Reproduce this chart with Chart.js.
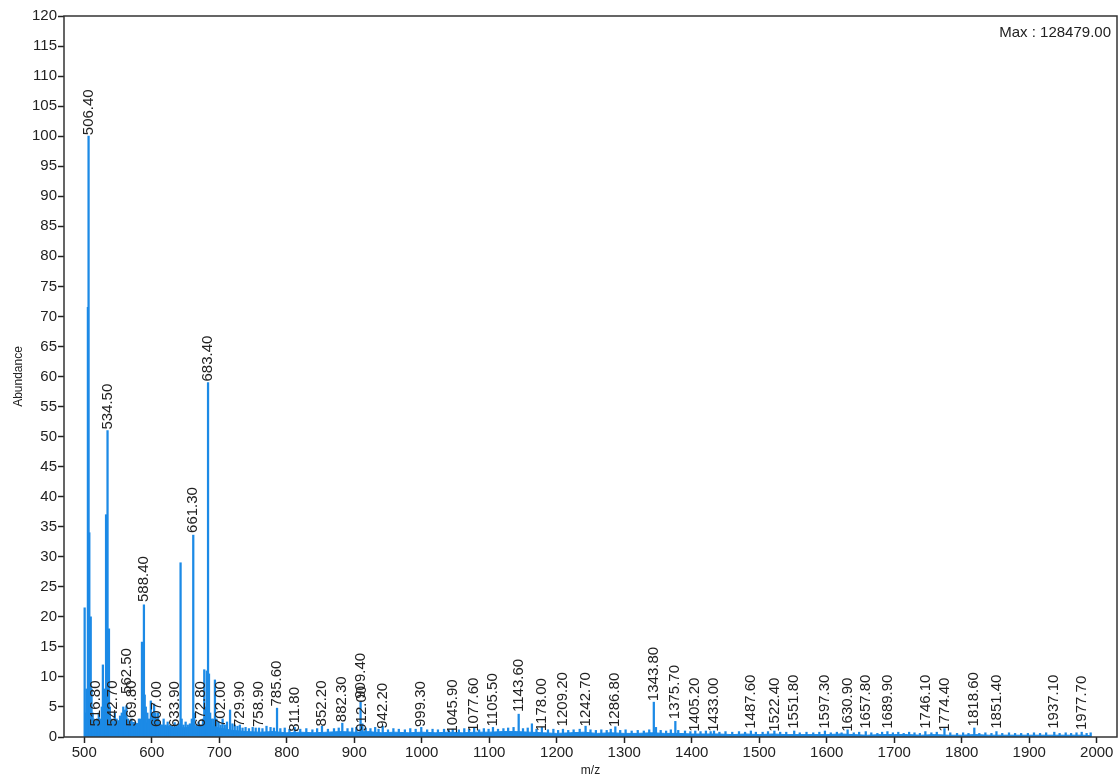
<!DOCTYPE html>
<html>
<head>
<meta charset="utf-8">
<script src="https://cdn.jsdelivr.net/npm/chart.js@4/dist/chart.umd.min.js"></script>
<style>
html, body { margin: 0; padding: 0; background: #fff; }
#wrap { width: 1119px; height: 780px; }
</style>
</head>
<body>
<div id="wrap"><canvas id="spectrum" width="1119" height="780"></canvas></div>
<script>
const FONT = '"Liberation Sans", Arial, sans-serif';
const BLUE = '#1c8ae6';
const maxCount = 128479;

// stick peaks (m/z, relative abundance %)
const peakMz = [
    500.6, 502.0, 503.3, 505.4, 506.4, 507.5, 508.6, 509.6, 510.8, 512.5, 514.0, 516.8, 519.2, 521.5, 524.0,
    526.0, 527.6, 529.0, 530.8, 532.3, 533.4, 534.5, 535.5, 536.6, 538.0, 540.0, 542.7, 545.3, 548.0, 550.5,
    553.0, 555.6, 557.8, 560.2, 562.5, 565.0, 567.5, 569.8, 572.4, 575.2, 578.0, 581.0, 583.6, 585.5, 587.2,
    588.4, 589.6, 591.2, 593.5, 596.0, 598.6, 601.0, 603.5, 605.6, 607.0, 609.4, 612.0, 614.8, 617.6, 620.6,
    623.6, 626.8, 630.0, 633.9, 637.0, 640.0, 642.7, 644.3, 647.0, 650.2, 653.4, 656.5, 659.4, 661.5, 663.0,
    666.0, 669.4, 672.8, 675.8, 677.8, 679.8, 681.5, 683.4, 684.8, 686.5, 688.8, 691.3, 693.6, 696.0, 699.0,
    702.0, 705.0, 708.2, 711.5, 716.0, 719.5, 723.0, 727.0, 730.5, 734.5, 739.0, 744.0, 749.5, 754.0, 758.9,
    764.0, 770.0, 776.0, 781.0, 785.6, 790.5, 797.0, 804.0, 811.8, 820.0, 829.0, 838.0, 845.0, 852.2, 861.0,
    870.0, 877.0, 882.3, 890.0, 897.0, 903.0, 909.4, 912.0, 917.0, 924.0, 931.0, 936.0, 942.2, 950.0, 958.0,
    966.0, 975.0, 983.0, 991.0, 999.3, 1008, 1016, 1024, 1033, 1040, 1045.9, 1055, 1063, 1070, 1077.6,
    1085, 1092, 1099, 1105.5, 1113, 1121, 1128, 1136, 1143.6, 1150, 1157, 1163.2, 1170, 1178.0, 1187,
    1195, 1202, 1209.2, 1217, 1225, 1234, 1242.7, 1250, 1258, 1266, 1274, 1280, 1286.8, 1294, 1302,
    1311, 1320, 1329, 1337, 1343.8, 1347, 1354, 1362, 1369, 1375.7, 1380, 1390, 1398, 1405.2, 1413,
    1421, 1428, 1433.0, 1441, 1450, 1460, 1470, 1479, 1487.6, 1495, 1505, 1513, 1522.4, 1531, 1540,
    1551.8, 1560, 1570, 1580, 1589, 1597.3, 1606, 1615, 1622, 1630.9, 1640, 1648, 1657.8, 1666, 1675,
    1682, 1689.9, 1698, 1706, 1714, 1722, 1730, 1738, 1746.1, 1755, 1763, 1774.4, 1783, 1793, 1802,
    1810, 1818.6, 1826, 1835, 1844, 1851.4, 1860, 1870, 1879, 1888, 1898, 1907, 1916, 1925, 1937.1,
    1945, 1954, 1962, 1970, 1977.7, 1985, 1991
];
const peakAbund = [
    21.5, 4, 8, 71.5, 100, 34, 6, 20, 8, 4, 3, 2.5, 3, 4, 3,
    5, 12, 4, 8, 37, 10, 51, 14, 18, 5, 3, 2.5, 4, 3, 2.5,
    3.5, 4, 5, 4.5, 5.2, 3, 2.5, 3, 2, 2.5, 2, 3, 3, 15.8, 5,
    22, 7, 5, 4, 3, 6, 4, 5.5, 4, 3, 4, 2.5, 2, 3, 2,
    2.5, 2, 1.8, 2.4, 2, 2.2, 29, 3, 2, 2.5, 2, 2.2, 3, 33.6, 4,
    2, 2.5, 2, 3, 11.2, 5, 11, 59, 10.5, 4, 3, 3, 9.5, 3, 2.5,
    2, 3, 2, 2.5, 4.5, 2.2, 2, 1.8, 2, 1.5, 1.6, 1.4, 1.6, 1.5, 1.5,
    1.4, 1.8, 1.6, 1.5, 4.8, 1.4, 1.5, 1.3, 1.6, 1.3, 1.4, 1.2, 1.4, 1.8, 1.3,
    1.4, 1.5, 2.3, 1.4, 1.5, 1.6, 5.8, 2.2, 1.5, 1.4, 1.6, 1.3, 1.8, 1.2, 1.4,
    1.3, 1.2, 1.4, 1.3, 1.6, 1.2, 1.3, 1.2, 1.3, 1.2, 1.3, 1.2, 1.4, 1.3, 1.5,
    1.2, 1.4, 1.3, 1.6, 1.3, 1.4, 1.5, 1.6, 3.8, 1.4, 1.5, 2.2, 1.3, 1.6, 1.2,
    1.3, 1.1, 1.3, 1.1, 1.2, 1.3, 1.8, 1.2, 1.1, 1.2, 1.1, 1.3, 1.7, 1.1, 1.2,
    1.0, 1.1, 1.0, 1.2, 5.8, 1.6, 1.1, 1.0, 1.2, 2.6, 1.1, 1.0, 0.9, 1.0, 0.9,
    1.0, 0.9, 1.0, 0.8, 0.9, 0.8, 0.9, 0.8, 1.0, 0.8, 0.8, 0.9, 1.0, 0.8, 0.8,
    1.0, 0.7, 0.8, 0.7, 0.8, 1.0, 0.7, 0.8, 0.7, 1.2, 0.7, 0.8, 0.9, 0.7, 0.6,
    0.8, 0.9, 0.7, 0.8, 0.6, 0.8, 0.7, 0.6, 0.9, 0.7, 0.8, 1.4, 0.7, 0.6, 0.7,
    0.6, 1.5, 0.6, 0.7, 0.6, 0.9, 0.6, 0.7, 0.6, 0.6, 0.6, 0.7, 0.6, 0.7, 0.8,
    0.6, 0.7, 0.6, 0.7, 0.8, 0.6, 0.7
];

// dense low-level baseline
const noiseMz = [
    500, 520, 540, 560, 580, 600, 620, 640, 660, 680, 700, 720, 740, 760, 780, 800, 820, 840, 860, 880,
    900, 920, 940, 960, 980, 1000, 1020, 1040, 1060, 1080, 1100, 1120, 1140, 1160, 1180, 1200, 1220, 1240, 1260, 1280,
    1300, 1320, 1340, 1360, 1380, 1400, 1420, 1440, 1460, 1480, 1500, 1520, 1540, 1560, 1580, 1600, 1620, 1640, 1660, 1680,
    1700, 1720, 1740, 1760, 1780, 1800, 1820, 1840, 1860, 1880, 1900, 1920, 1940, 1960, 1980, 1992
];
const noiseAbund = [
    2.0, 2.8, 2.6, 2.8, 2.2, 2.4, 1.8, 1.5, 1.6, 1.9, 1.5, 1.1, 0.9, 0.8, 0.9, 0.7, 0.8, 0.7, 0.8, 0.9,
    0.8, 0.9, 0.7, 0.8, 0.7, 0.8, 0.7, 0.8, 0.7, 0.8, 0.8, 0.9, 0.9, 0.8, 0.7, 0.6, 0.7, 0.8, 0.6, 0.7,
    0.6, 0.6, 0.7, 0.6, 0.6, 0.5, 0.5, 0.5, 0.4, 0.5, 0.4, 0.5, 0.4, 0.4, 0.4, 0.4, 0.5, 0.4, 0.3, 0.4,
    0.4, 0.4, 0.3, 0.4, 0.3, 0.3, 0.4, 0.3, 0.3, 0.3, 0.3, 0.3, 0.3, 0.3, 0.3, 0.2
];

// annotated peaks: text and the abundance where the label starts
const labelMz = [
    '506.40', '516.80', '534.50', '542.70', '562.50', '569.80', '588.40', '607.00', '633.90', '661.30',
    '672.80', '683.40', '702.00', '729.90', '758.90', '785.60', '811.80', '852.20', '882.30', '909.40',
    '912.00', '942.20', '999.30', '1045.90', '1077.60', '1105.50', '1143.60', '1178.00', '1209.20', '1242.70',
    '1286.80', '1343.80', '1375.70', '1405.20', '1433.00', '1487.60', '1522.40', '1551.80', '1597.30', '1630.90',
    '1657.80', '1689.90', '1746.10', '1774.40', '1818.60', '1851.40', '1937.10', '1977.70'
];
const labelAt = [
    100, 1.6, 51, 1.6, 7, 1.6, 22.3, 1.5, 1.5, 33.8,
    1.5, 59, 1.5, 1.5, 1.5, 4.9, 0.7, 1.6, 2.3, 6.2,
    0.7, 1.2, 1.5, 0.4, 0.7, 1.6, 4.0, 0.8, 1.6, 1.6,
    1.5, 5.8, 2.8, 0.7, 0.7, 1.2, 0.7, 1.2, 1.2, 0.7,
    1.2, 1.2, 1.2, 0.7, 1.6, 1.2, 1.2, 1.0
];

const xTickVals = [500, 600, 700, 800, 900, 1000, 1100, 1200, 1300, 1400, 1500, 1600, 1700, 1800, 1900, 2000];

const peakLabelPlugin = {
    id: 'peakLabels',
    afterDatasetsDraw(chart) {
        const ctx = chart.ctx;
        const xs = chart.scales.x;
        const ys = chart.scales.y;
        const a = chart.chartArea;

        ctx.save();
        ctx.font = '15px ' + FONT;
        ctx.fillStyle = '#222';
        ctx.textAlign = 'left';
        ctx.textBaseline = 'middle';
        labelMz.forEach((txt, i) => {
            ctx.save();
            ctx.translate(xs.getPixelForValue(parseFloat(txt)), ys.getPixelForValue(labelAt[i]) - 1);
            ctx.rotate(-Math.PI / 2);
            ctx.fillText(txt, 0, 0);
            ctx.restore();
        });

        // frame round the plot
        ctx.strokeStyle = '#333';
        ctx.lineWidth = 1.5;
        ctx.strokeRect(a.left, a.top, a.right - a.left, a.bottom - a.top);

        ctx.textAlign = 'right';
        ctx.fillText('Max : ' + maxCount.toFixed(2), a.right - 6, a.top + 17);
        ctx.restore();
    }
};

new Chart(document.getElementById('spectrum'), {
    type: 'bar',
    data: {
        datasets: [{
            type: 'bar',
            data: peakMz.map((m, i) => ({ x: m, y: peakAbund[i] })),
            backgroundColor: BLUE,
            barThickness: 1.6,
            order: 1
        }, {
            type: 'line',
            data: noiseMz.map((m, i) => ({ x: m, y: noiseAbund[i] })),
            borderColor: BLUE,
            backgroundColor: BLUE,
            borderWidth: 1,
            pointRadius: 0,
            tension: 0,
            fill: 'origin',
            order: 2
        }]
    },
    options: {
        responsive: false,
        animation: false,
        devicePixelRatio: 1,
        layout: { padding: { top: 16, right: 2, left: 0, bottom: 0 } },
        plugins: {
            legend: { display: false },
            tooltip: { enabled: false }
        },
        scales: {
            x: {
                type: 'linear',
                min: 470,
                max: 2030,
                offset: false,
                afterBuildTicks: (scale) => { scale.ticks = xTickVals.map(v => ({ value: v })); },
                afterFit: (scale) => { scale.height = 43; },
                grid: { display: true, offset: false, drawOnChartArea: false, tickLength: 6, tickColor: '#222', tickWidth: 1.5 },
                border: { display: false },
                ticks: {
                    color: '#222',
                    font: { family: FONT, size: 15 },
                    padding: 1,
                    maxRotation: 0,
                    autoSkip: false,
                    callback: (v) => String(v)
                },
                title: { display: true, text: 'm/z', color: '#222', font: { family: FONT, size: 12 }, padding: { top: 0, bottom: 2 } }
            },
            y: {
                min: 0,
                max: 120,
                afterFit: (scale) => { scale.width = 64; },
                grid: { display: true, drawOnChartArea: false, tickLength: 6, tickColor: '#222', tickWidth: 1.5 },
                border: { display: false },
                ticks: { stepSize: 5, color: '#222', font: { family: FONT, size: 15 }, padding: 1 },
                title: { display: true, text: 'Abundance', color: '#222', font: { family: FONT, size: 12 }, padding: { top: 11, bottom: 0 } }
            }
        }
    },
    plugins: [peakLabelPlugin]
});
</script>
</body>
</html>
